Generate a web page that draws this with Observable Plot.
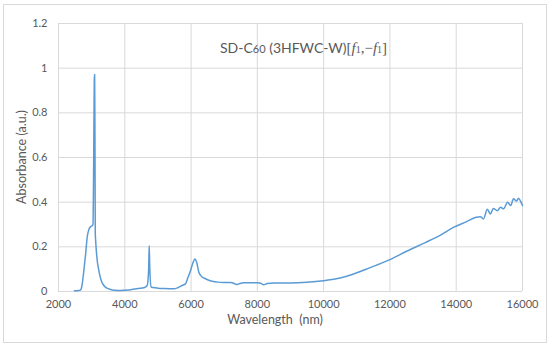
<!DOCTYPE html>
<html><head><meta charset="utf-8">
<script src="https://cdn.jsdelivr.net/npm/d3@7"></script>
<script src="https://cdn.jsdelivr.net/npm/@observablehq/plot@0.6"></script>
<style>
body{margin:0;background:#fff;}
#wrap{position:relative;width:550px;height:348px;}
#frame{position:absolute;left:3px;top:4px;width:544px;height:339px;border:1px solid #d9d9d9;box-sizing:border-box;pointer-events:none;}
svg{position:absolute;left:0;top:0;}
</style></head><body><div id="wrap"><div id="frame"></div></div>
<script>
const wavelength = [2480,2600,2660,2700,2765,2820,2866,2910,2950,3000,3040,3060,3080,3090,3100,3110,3120,3168,3210,3247,3300,3368,3450,3570,3700,3870,4000,4173,4400,4600,4676,4720,4737,4755,4797,4850,5000,5200,5480,5600,5730,5830,5900,5985,6060,6113,6170,6235,6300,6436,6600,6790,7000,7190,7300,7370,7450,7600,8000,8100,8190,8300,8500,9000,9500,10000,10500,10860,11200,11600,12000,12500,13050,13500,13930,14300,14600,14730,14820,14940,15030,15120,15240,15340,15430,15550,15640,15730,15820,15880,15940,16000];
const absorbance = [0.003,0.004,0.006,0.02,0.094,0.17,0.243,0.275,0.288,0.293,0.30,0.55,0.95,0.972,0.70,0.26,0.23,0.139,0.10,0.072,0.045,0.027,0.016,0.009,0.006,0.005,0.006,0.008,0.013,0.018,0.027,0.1,0.206,0.1,0.02,0.018,0.015,0.013,0.012,0.017,0.027,0.034,0.06,0.094,0.13,0.146,0.13,0.086,0.07,0.057,0.047,0.042,0.04,0.04,0.036,0.031,0.035,0.039,0.039,0.037,0.03,0.036,0.038,0.038,0.041,0.048,0.060,0.076,0.095,0.118,0.143,0.18,0.218,0.25,0.288,0.312,0.332,0.335,0.325,0.368,0.347,0.372,0.362,0.377,0.37,0.40,0.385,0.415,0.405,0.418,0.405,0.385];
const xTicks = [2000,4000,6000,8000,10000,12000,14000,16000];
const yTicks = [0,0.2,0.4,0.6,0.8,1,1.2];
const data = wavelength.map((w,i)=>({w, a: absorbance[i]}));
const font = "Lato, 'Open Sans', sans-serif";
const chart = Plot.plot({
  width:550, height:348,
  marginLeft:58, marginRight:28, marginTop:23, marginBottom:57,
  style:{fontFamily:font, color:"#595959", background:"transparent"},
  x:{domain:[2000,16000]},
  y:{domain:[0,1.2]},
  marks:[
    Plot.gridX(xTicks,{stroke:"#d9d9d9", strokeOpacity:1}),
    Plot.gridY(yTicks,{stroke:"#d9d9d9", strokeOpacity:1}),
    Plot.axisX(xTicks,{tickSize:0, tickPadding:9, tickFormat:d=>String(d), label:null, fontSize:11, fill:"#595959"}),
    Plot.axisY(yTicks,{tickSize:0, tickPadding:11, tickFormat:d=>String(d), label:null, fontSize:11, fill:"#595959"}),
    Plot.line(data,{x:"w", y:"a", stroke:"#5b9bd5", strokeWidth:1.5, curve:"monotone-x"})
  ]
});
document.getElementById("wrap").appendChild(chart);
const svg = d3.select(chart);
svg.append("text").attr("transform","translate(23,157) rotate(-90)")
  .attr("text-anchor","middle").attr("dominant-baseline","middle")
  .attr("font-size",12.5).attr("fill","#595959").attr("font-family",font)
  .text("Absorbance (a.u.)");
svg.append("text").attr("x",275).attr("y",321)
  .attr("text-anchor","middle").attr("dominant-baseline","middle")
  .attr("font-size",12.5).attr("fill","#595959").attr("font-family",font)
  .style("white-space","pre").text("Wavelength  (nm)");
const t = svg.append("text").attr("x",220).attr("y",53).attr("text-anchor","start")
  .attr("font-size",14).attr("fill","#595959").attr("font-family",font);
t.append("tspan").text("SD-C");
t.append("tspan").attr("font-size",11).text("60");
t.append("tspan").text(" (3HFWC-W)");
const serif = "'Liberation Serif', 'DejaVu Serif', serif";
t.append("tspan").attr("font-family",serif).attr("font-size",15).text("[");
t.append("tspan").attr("font-family",serif).attr("font-style","italic").attr("font-size",15).text("f");
t.append("tspan").attr("font-family",serif).attr("font-size",10).text("1");
t.append("tspan").attr("font-family",serif).attr("font-size",15).text(",\u2212");
t.append("tspan").attr("font-family",serif).attr("font-style","italic").attr("font-size",15).text("f");
t.append("tspan").attr("font-family",serif).attr("font-size",10).text("1");
t.append("tspan").attr("font-family",serif).attr("font-size",15).text("]");
</script></body></html>
